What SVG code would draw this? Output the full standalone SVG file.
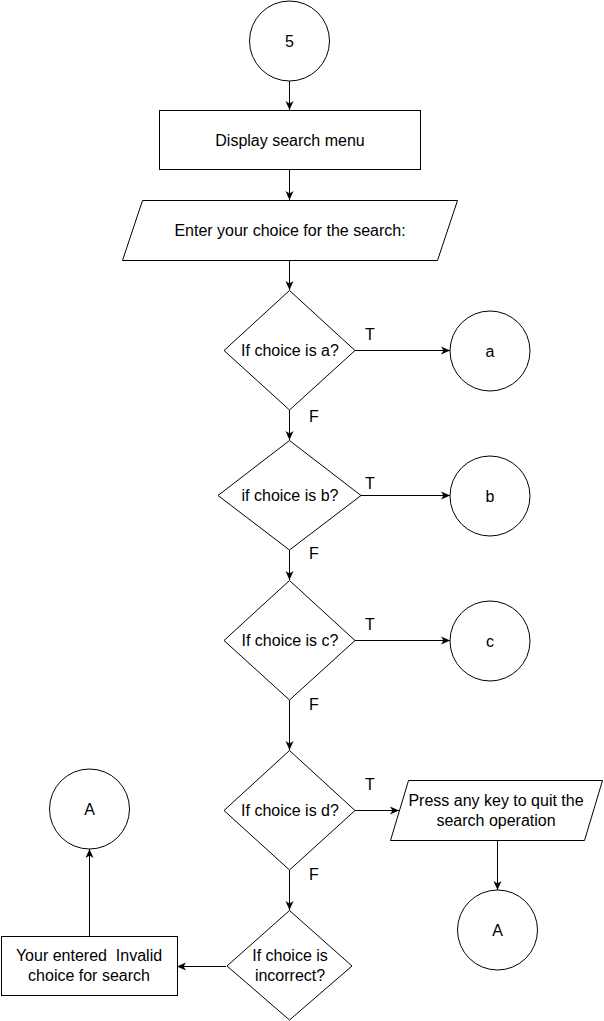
<svg xmlns="http://www.w3.org/2000/svg" width="604" height="1021" viewBox="0 0 604 1021">
<style>
.s{fill:#fff;stroke:#000;stroke-width:1}
.t{font-family:"Liberation Sans",Arial,sans-serif;font-size:16px;fill:#000;text-anchor:middle;dominant-baseline:central}
.c{fill:none;stroke:#000;stroke-width:1;marker-end:url(#ah)}
</style>
<defs>
<marker id="ah" markerUnits="userSpaceOnUse" markerWidth="10" markerHeight="9" refX="9" refY="4.5" orient="auto">
<path d="M0,0.5 L9,4.5 L0,8.5 L2.5,4.5 z" fill="#000"/>
</marker>
</defs>
<rect width="604" height="1021" fill="#fff"/>
<g id="connectors">
<path class="c" d="M289.5,81 V110"/>
<path class="c" d="M289.5,170 V200"/>
<path class="c" d="M289.5,260 V290"/>
<path class="c" d="M355,350.5 H450"/>
<path class="c" d="M289.5,410 V440"/>
<path class="c" d="M361,495.5 H450"/>
<path class="c" d="M289.5,550 V580"/>
<path class="c" d="M355,640.5 H450"/>
<path class="c" d="M289.5,700 V750"/>
<path class="c" d="M355,810.5 H399"/>
<path class="c" d="M289.5,870 V910"/>
<path class="c" d="M497.5,840 V890"/>
<path class="c" d="M226,966.5 H177"/>
<path class="c" d="M89.5,936 V849"/>
<text class="t" x="370" y="334">T</text>
<text class="t" x="314" y="416">F</text>
<text class="t" x="370" y="483">T</text>
<text class="t" x="314" y="553">F</text>
<text class="t" x="370" y="624">T</text>
<text class="t" x="314" y="704">F</text>
<text class="t" x="370" y="784">T</text>
<text class="t" x="314" y="874">F</text>
</g>
<g id="start5"><circle class="s" cx="289.5" cy="41" r="40"/><text class="t" x="289.5" y="41">5</text></g>
<g id="display"><rect class="s" x="159.5" y="110.5" width="261" height="59"/><text class="t" x="290" y="140">Display search menu</text></g>
<g id="enter"><polygon class="s" points="142.5,200.5 457.5,200.5 437.5,260.5 122.5,260.5"/><text class="t" x="290" y="230">Enter your choice for the search:</text></g>
<g id="dA"><polygon class="s" points="289.5,290.5 355,350.5 289.5,410 224,350.5"/><text class="t" x="290" y="350">If choice is a?</text></g>
<g id="ca"><circle class="s" cx="490" cy="351" r="40"/><text class="t" x="490" y="351">a</text></g>
<g id="dB"><polygon class="s" points="289.5,440.5 361,495.5 289.5,550 218,495.5"/><text class="t" x="290" y="495">if choice is b?</text></g>
<g id="cb"><circle class="s" cx="490" cy="496" r="40"/><text class="t" x="490" y="496">b</text></g>
<g id="dC"><polygon class="s" points="289.5,580.5 355,640.5 289.5,700 224,640.5"/><text class="t" x="290" y="640">If choice is c?</text></g>
<g id="cc"><circle class="s" cx="490" cy="641" r="40"/><text class="t" x="490" y="641">c</text></g>
<g id="dD"><polygon class="s" points="289.5,750.5 355,810.5 289.5,870 224,810.5"/><text class="t" x="290" y="810">If choice is d?</text></g>
<g id="quit"><polygon class="s" points="408.5,780.5 602.5,780.5 584.5,840.5 390.5,840.5"/><text class="t" x="496" y="800">Press any key to quit the</text><text class="t" x="496" y="820">search operation</text></g>
<g id="A2"><circle class="s" cx="497.5" cy="930" r="40"/><text class="t" x="497.5" y="930">A</text></g>
<g id="dE"><polygon class="s" points="289.5,910.5 352,966 289.5,1020 227,966"/><text class="t" x="290" y="955">If choice is</text><text class="t" x="290" y="975">incorrect?</text></g>
<g id="invalid"><rect class="s" x="1.5" y="936.5" width="176" height="59"/><text class="t" x="89" y="955" xml:space="preserve" style="white-space:pre">Your entered  Invalid</text><text class="t" x="89" y="975">choice for search</text></g>
<g id="A1"><circle class="s" cx="89.5" cy="809" r="40"/><text class="t" x="89.5" y="809">A</text></g>
</svg>
